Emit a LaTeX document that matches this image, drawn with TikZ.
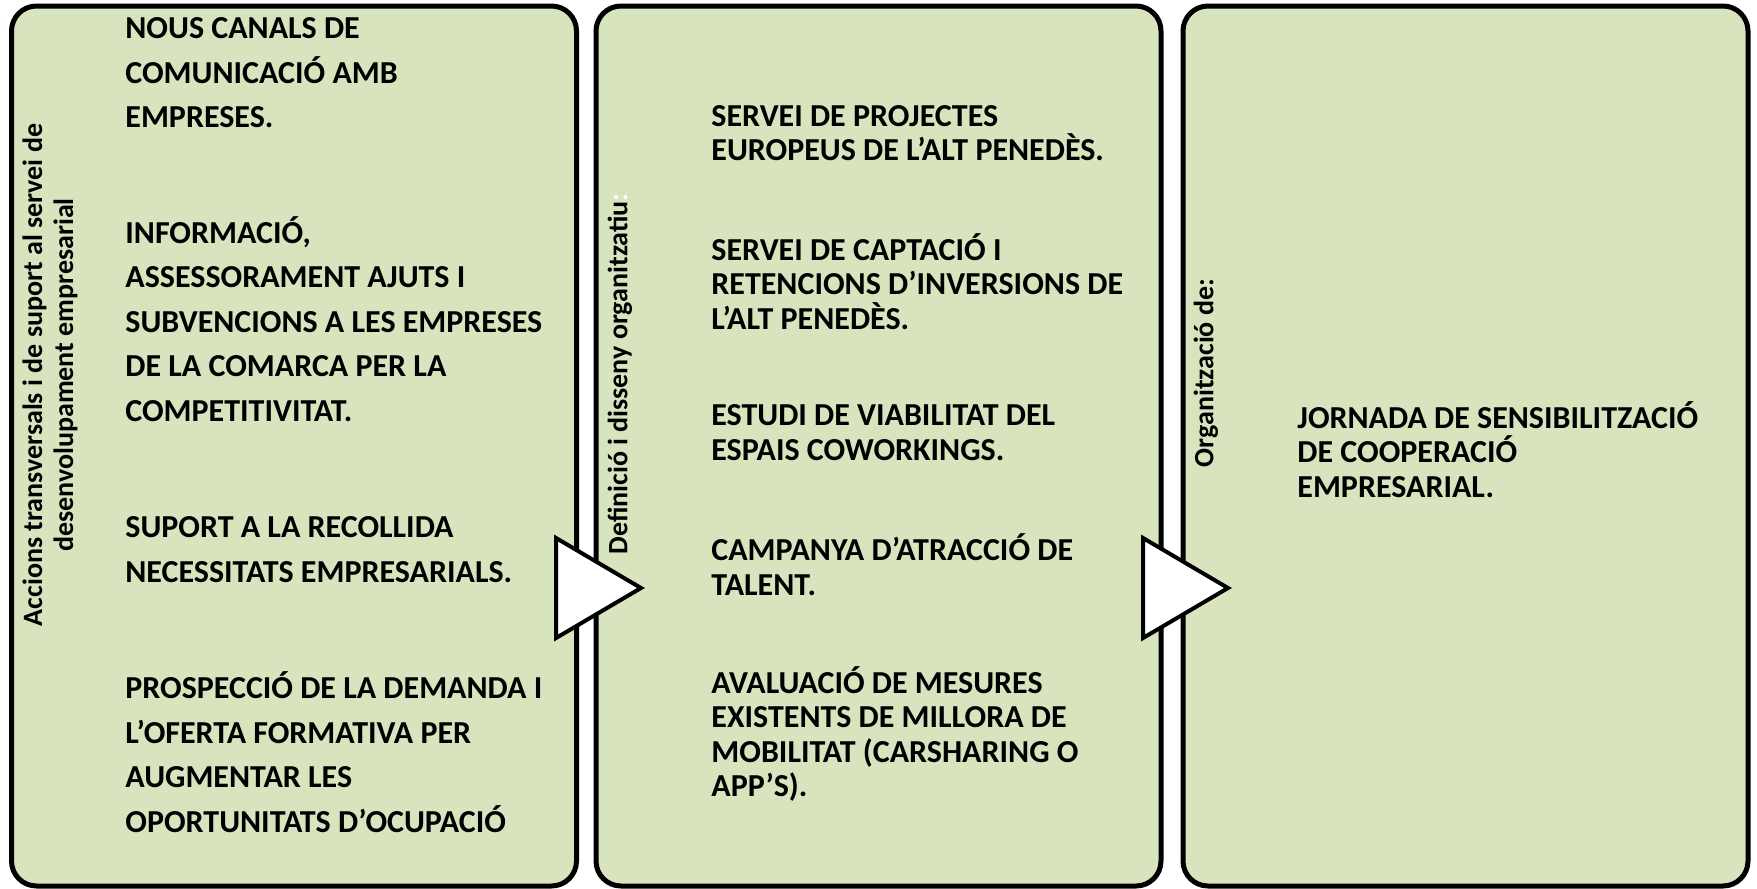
\documentclass[tikz,border=0pt]{standalone}
\usepackage{fontspec}
\setmainfont{Carlito}
\usetikzlibrary{positioning, shapes.geometric}
\definecolor{panelgreen}{HTML}{D7E4BD}
\tikzset{panel/.style={draw, line width=2.5pt, rounded corners=12.5pt, fill=panelgreen, minimum width=282.5pt, minimum height=440pt, inner sep=0pt, outer sep=0pt}}
\tikzset{item/.style={anchor=base west, align=left, inner sep=0pt, font=\bfseries\fontsize{16}{17.25}\selectfont}}
\tikzset{wideitem/.style={item, font=\bfseries\fontsize{16}{22.25}\selectfont}}
\tikzset{side/.style={rotate=90, align=center, inner sep=0pt, font=\bfseries\fontsize{14}{15.5}\selectfont}}
\tikzset{chevron/.style={isosceles triangle, isosceles triangle stretches, draw, fill=white, line width=2pt, minimum width=50pt, minimum height=42.5pt, inner sep=0pt, outer sep=0pt, anchor=apex}}

\begin{document}
\begin{tikzpicture}[x=0.5pt, y=-0.5pt]
		\useasboundingbox (0,0) rectangle (1757,889);
		
		\node[panel] (P1) at (294,446){};
		\node[panel] (P2) at (878.5,446){};
		\node[panel] (P3) at (1465.5,446){};
		
		\node[side] (S1) at (50,375){Accions transversals i de suport al servei de\\desenvolupament empresarial};
		\node[side] (S2) at (620,374){Definició i disseny organitzatiu\textcolor{white}{:}};
		\node[side] (S3) at (1206,373){Organització de:};
		
		\node[wideitem] (A1) at (125,127.6){NOUS CANALS DE\\COMUNICACIÓ AMB\\EMPRESES.};
		\node[wideitem] (A2) at (125,421){INFORMACIÓ,\\ASSESSORAMENT AJUTS I\\SUBVENCIONS A LES EMPRESES\\DE LA COMARCA PER LA\\COMPETITIVITAT.};
		\node[wideitem] (A3) at (125,582){SUPORT A LA RECOLLIDA\\NECESSITATS EMPRESARIALS.};
		\node[wideitem] (A4) at (125,832){PROSPECCIÓ DE LA DEMANDA I\\L’OFERTA FORMATIVA PER\\AUGMENTAR LES\\OPORTUNITATS D’OCUPACIÓ};
		
		\node[item] (B1) at (711,160.5){SERVEI DE PROJECTES\\EUROPEUS DE L’ALT PENEDÈS.};
		\node[item] (B2) at (711,329){SERVEI DE CAPTACIÓ I\\RETENCIONS D’INVERSIONS DE\\L’ALT PENEDÈS.};
		\node[item] (B3) at (711,460){ESTUDI DE VIABILITAT DEL\\ESPAIS COWORKINGS.};
		\node[item] (B4) at (711,595){CAMPANYA D’ATRACCIÓ DE\\TALENT.};
		\node[item] (B5) at (711,796.5){AVALUACIÓ DE MESURES\\EXISTENTS DE MILLORA DE\\MOBILITAT (CARSHARING O\\APP’S).};
		
		\node[item] (C1) at (1297,497){JORNADA DE SENSIBILITZACIÓ\\DE COOPERACIÓ\\EMPRESARIAL.};
		
		\node[chevron] (T12) at (641,588){};
		\node[chevron] (T23) at (1228,588){};
	\end{tikzpicture}
\end{document}
